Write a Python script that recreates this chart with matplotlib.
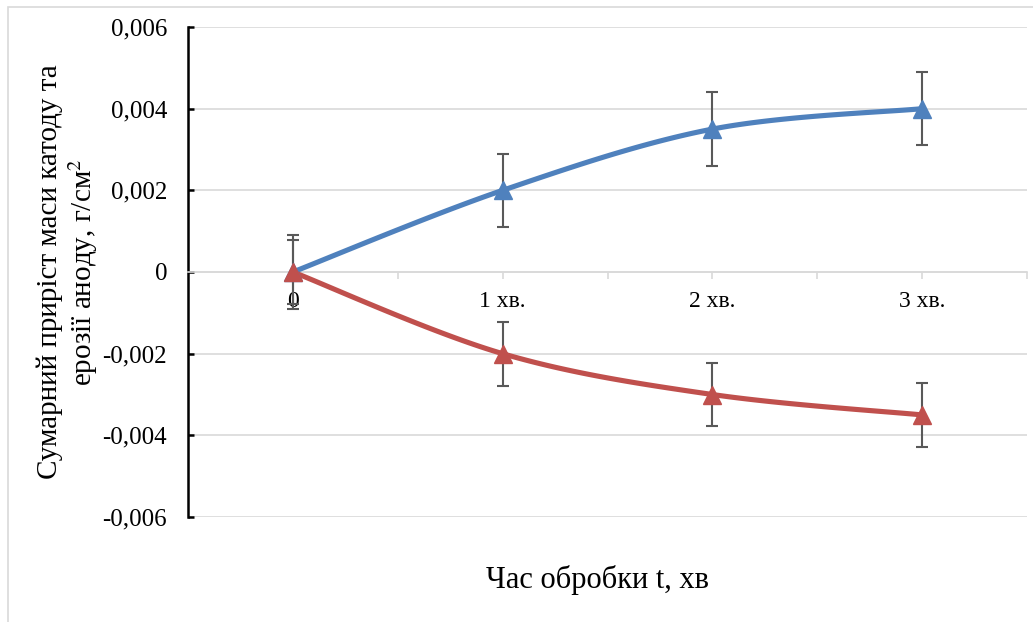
import numpy as np
import matplotlib.pyplot as plt
from matplotlib.patches import Rectangle
from matplotlib.ticker import FuncFormatter, MultipleLocator

# дані з графіка
categories = ["0", "1 хв.", "2 хв.", "3 хв."]
cathode = [0.0, 0.002, 0.0035, 0.004]
cathode_err = [0.0009, 0.0009, 0.0009, 0.0009]
anode = [0.0, -0.002, -0.003, -0.0035]
anode_err = [0.00078, 0.00078, 0.00078, 0.00078]

blue = "#4f81bd"
red = "#c0504d"


def smooth(xs, ys, n=40):
    """Згладжена лінія як у Excel (Безьє через сусідні точки)."""
    xs = np.asarray(xs, float)
    ys = np.asarray(ys, float)
    px, py = [], []
    for i in range(len(xs) - 1):
        x0, y0 = xs[max(i - 1, 0)], ys[max(i - 1, 0)]
        x1, y1 = xs[i], ys[i]
        x2, y2 = xs[i + 1], ys[i + 1]
        x3, y3 = xs[min(i + 2, len(xs) - 1)], ys[min(i + 2, len(ys) - 1)]
        c1x, c1y = x1 + (x2 - x0) / 6, y1 + (y2 - y0) / 6
        c2x, c2y = x2 - (x3 - x1) / 6, y2 - (y3 - y1) / 6
        t = np.linspace(0, 1, n)
        px.append((1 - t) ** 3 * x1 + 3 * (1 - t) ** 2 * t * c1x + 3 * (1 - t) * t ** 2 * c2x + t ** 3 * x2)
        py.append((1 - t) ** 3 * y1 + 3 * (1 - t) ** 2 * t * c1y + 3 * (1 - t) * t ** 2 * c2y + t ** 3 * y2)
    return np.concatenate(px), np.concatenate(py)


plt.rcParams["font.family"] = ["Liberation Serif", "DejaVu Serif"]
plt.rcParams["mathtext.fontset"] = "stix"

fig = plt.figure(figsize=(10.33, 6.22), dpi=100)
ax = fig.add_axes([188 / 1033, 1 - 517 / 622, 839 / 1033, 490 / 622])

fig.patches.append(Rectangle((8 / 1033, -0.1), 1.2, 1.1 - 7 / 622, transform=fig.transFigure,
                             fill=False, edgecolor="#d9d9d9", lw=1.2))

x = np.arange(len(categories))

for ys, err in [(cathode, cathode_err), (anode, anode_err)]:
    ax.errorbar(x, ys, yerr=err, fmt="none", ecolor="#595959", elinewidth=1.5,
                capsize=4.2, capthick=1.5, zorder=3)

for ys, c in [(cathode, blue), (anode, red)]:
    sx, sy = smooth(x, ys)
    ax.plot(sx, sy, color=c, lw=3.7, solid_capstyle="round", zorder=4)
    ax.plot(x, ys, ls="none", marker="^", ms=13, color=c, zorder=5)

ax.set_xlim(-0.5, 3.5)
ax.set_ylim(-0.006, 0.006)
ax.yaxis.set_major_locator(MultipleLocator(0.002))
ax.yaxis.set_major_formatter(FuncFormatter(
    lambda v, p: "0" if abs(v) < 1e-12 else f"{v:.3f}".replace(".", ",")))
ax.grid(axis="y", color="#d9d9d9", lw=1.2, zorder=0)
ax.set_axisbelow(True)

for s in ["top", "right"]:
    ax.spines[s].set_visible(False)
ax.spines["left"].set_color("black")
ax.spines["left"].set_linewidth(1.8)
ax.spines["left"].set_zorder(2)
ax.spines["bottom"].set_position(("data", 0))
ax.spines["bottom"].set_color("#d9d9d9")
ax.spines["bottom"].set_linewidth(1.2)

ax.set_xticks(np.arange(0, 3.51, 0.5))
ax.set_xticklabels([categories[int(t)] if t == int(t) else "" for t in np.arange(0, 3.51, 0.5)])
ax.tick_params(axis="x", direction="out", length=5, color="#d9d9d9", width=1.2,
               labelsize=17, pad=9)
ax.tick_params(axis="y", direction="in", length=4.5, color="black", width=1.8,
               labelsize=18, pad=15)

fig.text(68 / 1033, 1 - 272 / 622, "Сумарний приріст маси катоду та\nерозії аноду, г/см$^2$",
         rotation=90, ha="center", va="center", fontsize=21, linespacing=1.12)
fig.text(598 / 1033, 1 - 580 / 622, "Час обробки t, хв", ha="center", va="center", fontsize=22)

fig.savefig("out.png", dpi=100)
